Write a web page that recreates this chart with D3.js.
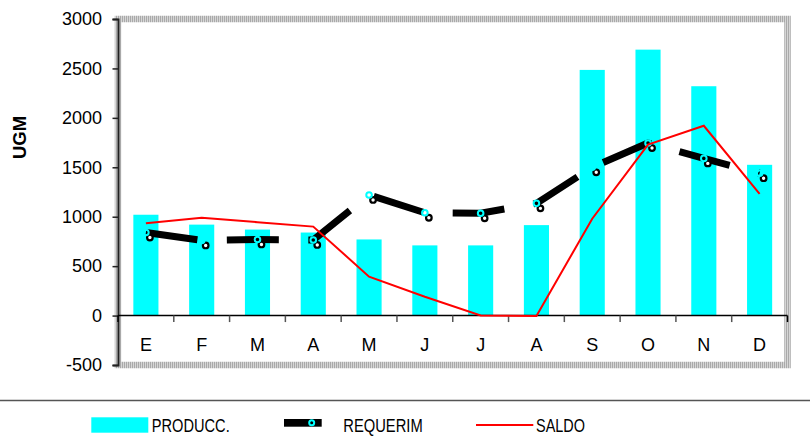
<!DOCTYPE html>
<html>
<head>
<meta charset="utf-8">
<script src="https://cdn.jsdelivr.net/npm/d3@7"></script>
<style>
  html, body { margin: 0; padding: 0; background: #fff; }
  svg { display: block; font-family: "Liberation Sans", Arial, sans-serif; }
</style>
</head>
<body>
<svg id="chart" width="810" height="446"></svg>
<script>
// Monthly series (UGM)
const months = ["E", "F", "M", "A", "M", "J", "J", "A", "S", "O", "N", "D"];
const produccion = [1020, 920, 870, 840, 770, 710, 710, 915, 2485, 2690, 2320, 1525];
const requerimiento = [840, 760, 770, 765, 1220, 1040, 1035, 1135, 1500, 1745, 1590, 1440];
const saldo = [935, 990, 945, 900, 394, 190, 0, -5, 980, 1730, 1920, 1230];
const yTicks = [-500, 0, 500, 1000, 1500, 2000, 2500, 3000];
const legendLabels = ["PRODUCC.", "REQUERIM", "SALDO"];

const svg = d3.select("#chart");
const W = 810, H = 446;
const plot = { left: 118, right: 787.5, top: 19, bottom: 365 };

const idx = d3.range(months.length);
const x = d3.scaleBand()
  .domain(idx)
  .range([plot.left, plot.right])
  .paddingInner(0.55)
  .paddingOuter(0.275);
const xc = i => x(i) + x.bandwidth() / 2;
const y = d3.scaleLinear().domain([-500, 3000]).range([plot.bottom, plot.top]);

const defs = svg.append("defs");

// striped grey fill used for the plot-area frame
const hatch = defs.append("pattern")
  .attr("id", "hatch")
  .attr("patternUnits", "userSpaceOnUse")
  .attr("width", 2).attr("height", 2);
hatch.append("rect").attr("width", 2).attr("height", 2).attr("fill", "#d6d6d6");
hatch.append("rect").attr("width", 1).attr("height", 2).attr("fill", "#a9a9a9");

svg.append("rect").attr("width", W).attr("height", H).attr("fill", "#fff");

// plot area background
svg.append("rect")
  .attr("x", plot.left).attr("y", plot.top)
  .attr("width", plot.right - plot.left).attr("height", plot.bottom - plot.top)
  .attr("fill", "#fff");

// bars: PRODUCC.
svg.append("g").selectAll("rect")
  .data(produccion)
  .join("rect")
  .attr("x", (d, i) => x(i))
  .attr("width", x.bandwidth())
  .attr("y", d => y(Math.max(0, d)))
  .attr("height", d => Math.abs(y(d) - y(0)))
  .attr("fill", "#00ffff");

// frame drawn over the plot edges
svg.append("rect")
  .attr("x", plot.left).attr("y", plot.top)
  .attr("width", plot.right - plot.left).attr("height", plot.bottom - plot.top)
  .attr("fill", "none")
  .attr("stroke", "url(#hatch)")
  .attr("stroke-width", 6.5);

// y axis
const yAxis = svg.append("g")
  .attr("transform", `translate(${plot.left},0)`)
  .call(d3.axisLeft(y).tickValues(yTicks).tickSize(5.5).tickPadding(10.5).tickFormat(d => String(d)));
yAxis.select(".domain").attr("stroke", "#222").attr("stroke-width", 2);
yAxis.selectAll(".tick line").attr("stroke", "#222").attr("stroke-width", 1.5);
yAxis.selectAll("text").attr("font-size", 18).attr("fill", "#000")
  .attr("font-family", "'Liberation Sans', Arial, sans-serif");

// x axis along zero, ticks at category boundaries
const y0 = y(0);
svg.append("line")
  .attr("x1", plot.left).attr("x2", plot.right)
  .attr("y1", y0).attr("y2", y0)
  .attr("stroke", "#000").attr("stroke-width", 1.5);
const bounds = d3.range(months.length + 1).map(k => plot.left + k * (plot.right - plot.left) / months.length);
svg.append("g").selectAll("line")
  .data(bounds)
  .join("line")
  .attr("x1", d => d).attr("x2", d => d)
  .attr("y1", y0).attr("y2", y0 + 6.5)
  .attr("stroke", (d, k) => (k === 0 || k === months.length) ? "#000" : "#555")
  .attr("stroke-width", 1.5);
svg.append("g").selectAll("text")
  .data(idx)
  .join("text")
  .attr("x", i => xc(i))
  .attr("y", 350.7)
  .attr("text-anchor", "middle")
  .attr("font-size", 18)
  .text(i => months[i]);

// axis title
svg.append("text")
  .attr("transform", "translate(26,137.5) rotate(-90)")
  .attr("text-anchor", "middle")
  .attr("font-size", 18.5)
  .attr("font-weight", "bold")
  .text("UGM");

// REQUERIM: thick long-dash line
const line = d3.line().x((d, i) => xc(i)).y(d => y(d));
svg.append("path")
  .attr("d", line(requerimiento))
  .attr("fill", "none")
  .attr("stroke", "#000")
  .attr("stroke-width", 7)
  .attr("stroke-dasharray", "52,29.5");

// offset dark markers
svg.append("g").selectAll("circle")
  .data(requerimiento)
  .join("circle")
  .attr("cx", (d, i) => xc(i) + 4)
  .attr("cy", d => y(d) + 5)
  .attr("r", 2.8)
  .attr("fill", "#fff")
  .attr("stroke", "#000")
  .attr("stroke-width", 2.2);

// cyan markers on the data points
svg.append("g").selectAll("circle")
  .data(requerimiento)
  .join("circle")
  .attr("cx", (d, i) => xc(i))
  .attr("cy", d => y(d))
  .attr("r", 2.8)
  .attr("fill", "none")
  .attr("stroke", "#00ffff")
  .attr("stroke-width", 2);

// SALDO line
svg.append("path")
  .attr("d", line(saldo))
  .attr("fill", "none")
  .attr("stroke", "#ff0000")
  .attr("stroke-width", 2);

// legend
svg.append("line")
  .attr("x1", 0).attr("x2", W)
  .attr("y1", 400.5).attr("y2", 400.5)
  .attr("stroke", "#555").attr("stroke-width", 1.5);

const lg = svg.append("g");
lg.append("rect")
  .attr("x", 91.3).attr("y", 417.3).attr("width", 57).attr("height", 15.4)
  .attr("fill", "#00ffff");
lg.append("rect")
  .attr("x", 284).attr("y", 419).attr("width", 37.7).attr("height", 7.7)
  .attr("fill", "#000");
lg.append("circle")
  .attr("cx", 311.7).attr("cy", 422.8).attr("r", 2.5)
  .attr("fill", "none").attr("stroke", "#00ffff").attr("stroke-width", 2);
lg.append("line")
  .attr("x1", 476).attr("x2", 533.3).attr("y1", 425).attr("y2", 425)
  .attr("stroke", "#ff0000").attr("stroke-width", 2);

const legendText = [
  { x: 151.7, len: 78 },
  { x: 343.3, len: 79.4 },
  { x: 536, len: 49 }
];
lg.selectAll("text")
  .data(legendLabels)
  .join("text")
  .attr("x", (d, i) => legendText[i].x)
  .attr("y", 431.7)
  .attr("font-size", 18.5)
  .attr("textLength", (d, i) => legendText[i].len)
  .attr("lengthAdjust", "spacingAndGlyphs")
  .text(d => d);
</script>
</body>
</html>
